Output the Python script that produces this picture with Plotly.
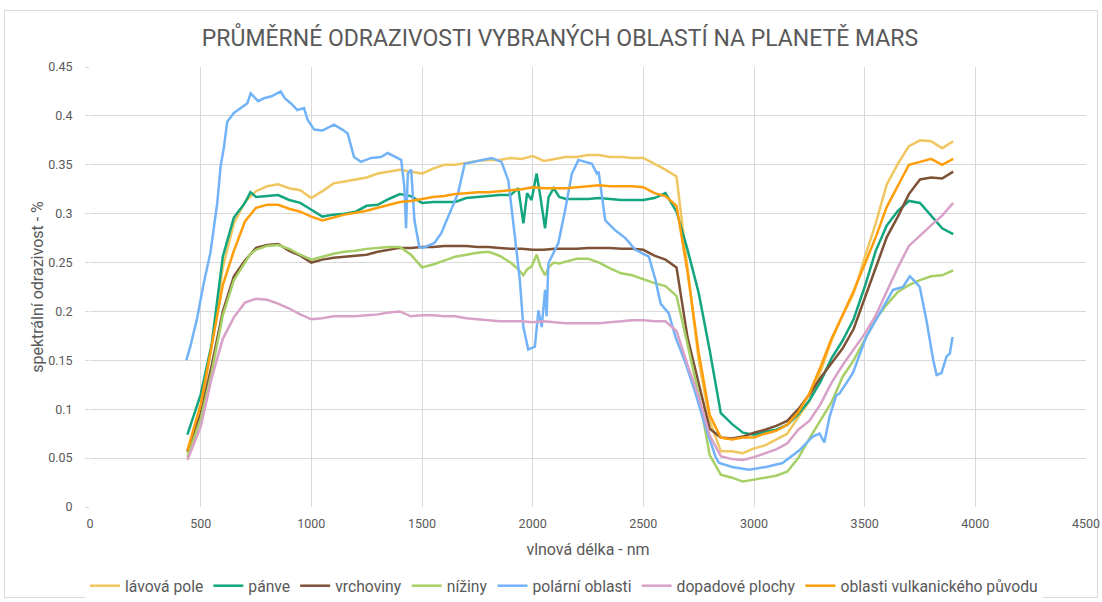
import plotly.graph_objects as go

# ---------------- data ----------------
wl = [440, 500, 550, 600, 650, 700, 750, 800, 850, 900, 950, 1000, 1050, 1100, 1150, 1200,
      1250, 1300, 1350, 1400, 1450, 1500, 1550, 1600, 1650, 1700, 1750, 1800, 1850, 1900,
      1950, 2000, 2050, 2100, 2150, 2200, 2250, 2300, 2350, 2400, 2450, 2500, 2550, 2600,
      2650, 2700, 2750, 2800, 2850, 2900, 2950, 3000, 3050, 3100, 3150, 3200, 3250, 3300,
      3350, 3400, 3450, 3500, 3550, 3600, 3650, 3700, 3750, 3800, 3850, 3900]

lavova_pole = [0.055, 0.100, 0.165, 0.245, 0.290, 0.312, 0.323, 0.328, 0.330, 0.326, 0.324, 0.316,
               0.323, 0.331, 0.333, 0.335, 0.337, 0.341, 0.343, 0.345, 0.343, 0.341, 0.346, 0.350,
               0.350, 0.352, 0.354, 0.355, 0.355, 0.357, 0.356, 0.359, 0.354, 0.356, 0.358, 0.358,
               0.360, 0.360, 0.358, 0.358, 0.357, 0.357, 0.351, 0.345, 0.338, 0.245, 0.150, 0.088,
               0.057, 0.057, 0.055, 0.060, 0.063, 0.069, 0.075, 0.092, 0.108, 0.138, 0.170, 0.196,
               0.218, 0.255, 0.290, 0.330, 0.351, 0.369, 0.375, 0.374, 0.367, 0.374]

vrchoviny = [0.057, 0.095, 0.145, 0.200, 0.236, 0.252, 0.265, 0.268, 0.269, 0.262, 0.257, 0.250,
             0.253, 0.255, 0.256, 0.257, 0.258, 0.261, 0.263, 0.265, 0.265, 0.266, 0.266, 0.267,
             0.267, 0.267, 0.266, 0.266, 0.265, 0.264, 0.264, 0.263, 0.263, 0.264, 0.264, 0.264,
             0.265, 0.265, 0.265, 0.264, 0.264, 0.263, 0.257, 0.253, 0.245, 0.173, 0.125, 0.080,
             0.071, 0.070, 0.072, 0.076, 0.079, 0.083, 0.088, 0.100, 0.115, 0.132, 0.147, 0.162,
             0.182, 0.213, 0.245, 0.276, 0.297, 0.320, 0.335, 0.337, 0.336, 0.343]

dopadove_plochy = [0.048, 0.082, 0.132, 0.172, 0.194, 0.209, 0.213, 0.212, 0.208, 0.203, 0.197, 0.192,
                   0.193, 0.195, 0.195, 0.195, 0.196, 0.197, 0.199, 0.200, 0.195, 0.196, 0.196, 0.195,
                   0.195, 0.193, 0.192, 0.191, 0.190, 0.190, 0.190, 0.189, 0.190, 0.189, 0.188, 0.188,
                   0.188, 0.188, 0.189, 0.190, 0.191, 0.191, 0.190, 0.190, 0.180, 0.145, 0.113, 0.073,
                   0.052, 0.049, 0.048, 0.051, 0.055, 0.059, 0.065, 0.079, 0.088, 0.105, 0.127, 0.145,
                   0.161, 0.177, 0.196, 0.220, 0.245, 0.267, 0.278, 0.288, 0.298, 0.311]

vulkanicke = [0.058, 0.105, 0.165, 0.227, 0.262, 0.292, 0.306, 0.309, 0.309, 0.305, 0.302, 0.297,
              0.293, 0.296, 0.299, 0.301, 0.303, 0.306, 0.309, 0.312, 0.313, 0.315, 0.317, 0.318,
              0.320, 0.321, 0.322, 0.322, 0.323, 0.324, 0.325, 0.327, 0.326, 0.326, 0.326, 0.327,
              0.328, 0.329, 0.328, 0.328, 0.328, 0.327, 0.321, 0.318, 0.308, 0.240, 0.158, 0.094,
              0.071, 0.069, 0.071, 0.071, 0.075, 0.078, 0.084, 0.097, 0.116, 0.143, 0.172, 0.196,
              0.221, 0.248, 0.276, 0.307, 0.328, 0.350, 0.353, 0.356, 0.350, 0.356]

wl_detail = [440, 500, 550, 600, 650, 700, 725, 750, 800, 850, 900, 950, 1000, 1050, 1100, 1150,
             1200, 1250, 1300, 1350, 1400, 1450, 1500, 1550, 1600, 1650, 1700, 1750, 1800, 1850,
             1900, 1935, 1958, 1975, 1995, 2018, 2035, 2056, 2072, 2095, 2120, 2150, 2200, 2250,
             2300, 2350, 2400, 2450, 2500, 2550, 2600, 2650, 2700, 2750, 2800, 2850, 2900, 2950,
             3000, 3050, 3100, 3150, 3200, 3250, 3300, 3350, 3400, 3450, 3500, 3550, 3600, 3650,
             3700, 3750, 3800, 3850, 3900]

panve = [0.074, 0.115, 0.167, 0.256, 0.296, 0.311, 0.322, 0.317, 0.318, 0.319, 0.314, 0.311,
         0.304, 0.297, 0.299, 0.300, 0.302, 0.308, 0.309, 0.315, 0.320, 0.318, 0.311, 0.312,
         0.312, 0.312, 0.316, 0.317, 0.318, 0.319, 0.319, 0.326, 0.290, 0.321, 0.314, 0.341,
         0.317, 0.285, 0.317, 0.326, 0.317, 0.315, 0.315, 0.315, 0.316, 0.315, 0.314, 0.314,
         0.314, 0.316, 0.321, 0.302, 0.263, 0.219, 0.160, 0.096, 0.085, 0.076, 0.074, 0.077,
         0.079, 0.084, 0.095, 0.109, 0.128, 0.152, 0.170, 0.192, 0.225, 0.262, 0.288, 0.303,
         0.313, 0.311, 0.298, 0.285, 0.279]

niziny = [0.051, 0.090, 0.138, 0.196, 0.232, 0.250, 0.259, 0.263, 0.267, 0.268, 0.264, 0.258,
          0.253, 0.256, 0.259, 0.261, 0.262, 0.264, 0.265, 0.266, 0.266, 0.258, 0.245, 0.248,
          0.252, 0.256, 0.258, 0.260, 0.261, 0.257, 0.250, 0.243, 0.237, 0.243, 0.246, 0.258,
          0.246, 0.237, 0.245, 0.250, 0.249, 0.251, 0.254, 0.254, 0.250, 0.244, 0.239, 0.237,
          0.233, 0.229, 0.226, 0.216, 0.166, 0.115, 0.053, 0.033, 0.030, 0.026, 0.028, 0.030,
          0.032, 0.036, 0.050, 0.070, 0.088, 0.107, 0.133, 0.150, 0.171, 0.192, 0.207, 0.220,
          0.227, 0.232, 0.236, 0.237, 0.242]

wl_polar = [435, 453, 484, 514, 544, 575, 590, 605, 620, 650, 711, 726, 760, 786, 820, 862, 880,
            907, 937, 967, 983, 1013, 1050, 1088, 1102, 1140, 1164, 1193, 1224, 1270, 1315, 1345,
            1406, 1420, 1428, 1436, 1451, 1466, 1488, 1504, 1556, 1587, 1618, 1647, 1663, 1693,
            1769, 1814, 1859, 1890, 1920, 1942, 1958, 1980, 2010, 2026, 2041, 2056, 2063, 2071,
            2116, 2147, 2177, 2207, 2268, 2290, 2298, 2328, 2373, 2419, 2464, 2525, 2555, 2578,
            2615, 2645, 2691, 2736, 2781, 2827, 2842, 2902, 2978, 3054, 3129, 3159, 3205, 3265,
            3296, 3318, 3341, 3371, 3386, 3447, 3507, 3568, 3628, 3673, 3704, 3734, 3749, 3779,
            3810, 3825, 3847, 3870, 3885, 3897]

polarni = [0.150, 0.164, 0.193, 0.229, 0.260, 0.311, 0.348, 0.368, 0.394, 0.403, 0.413, 0.423,
           0.415, 0.418, 0.420, 0.425, 0.418, 0.413, 0.406, 0.408, 0.396, 0.386, 0.385, 0.389,
           0.391, 0.386, 0.382, 0.358, 0.353, 0.357, 0.358, 0.362, 0.355, 0.328, 0.285, 0.341,
           0.345, 0.293, 0.266, 0.265, 0.270, 0.280, 0.297, 0.311, 0.321, 0.351, 0.355, 0.357,
           0.353, 0.334, 0.276, 0.232, 0.184, 0.161, 0.164, 0.201, 0.184, 0.222, 0.195, 0.249,
           0.270, 0.304, 0.341, 0.355, 0.351, 0.341, 0.343, 0.293, 0.283, 0.275, 0.263, 0.256,
           0.232, 0.208, 0.198, 0.174, 0.147, 0.116, 0.082, 0.051, 0.045, 0.041, 0.038, 0.041,
           0.045, 0.050, 0.058, 0.072, 0.075, 0.066, 0.092, 0.114, 0.116, 0.137, 0.174, 0.198,
           0.222, 0.225, 0.236, 0.229, 0.225, 0.191, 0.150, 0.135, 0.137, 0.154, 0.157, 0.174]

series = [
    ("lávová pole", wl, lavova_pole, "#F0C660"),
    ("pánve", wl_detail, panve, "#12A57F"),
    ("vrchoviny", wl, vrchoviny, "#7D5236"),
    ("nížiny", wl_detail, niziny, "#A6CF66"),
    ("polární oblasti", wl_polar, polarni, "#72B3F8"),
    ("dopadové plochy", wl, dopadove_plochy, "#D8A2C8"),
    ("oblasti vulkanického původu", wl, vulkanicke, "#FF9E0A"),
]

x_ticks = [0, 500, 1000, 1500, 2000, 2500, 3000, 3500, 4000, 4500]
y_ticks = [0, 0.05, 0.1, 0.15, 0.2, 0.25, 0.3, 0.35, 0.4, 0.45]

# ---------------- figure ----------------
FONT = "Roboto"
GREY = "#595959"
GRID = "#D9D9D9"
W, H = 1102, 602
L, R, T, B = 90, 16, 67, 95
PW, PH = W - L - R, H - T - B

fig = go.Figure()
for name, xs, ys, col in series:
    fig.add_trace(go.Scatter(x=xs, y=ys, mode="lines", name=name,
                             line=dict(color=col, width=2.5)))

fig.update_layout(
    width=W, height=H,
    margin=dict(l=L, r=R, t=T, b=B, autoexpand=False),
    paper_bgcolor="white", plot_bgcolor="white",
    font=dict(family=FONT, color=GREY, size=12),
    title=dict(text="PRŮMĚRNÉ ODRAZIVOSTI VYBRANÝCH OBLASTÍ NA PLANETĚ MARS",
               x=560 / W, xanchor="center", y=1 - 38 / H, yanchor="middle",
               font=dict(family=FONT, size=23, color=GREY)),
    legend=dict(orientation="h", x=(564 - L) / PW, xanchor="center",
                y=(H - B - 586) / PH, yanchor="middle",
                font=dict(family=FONT, size=15.7, color=GREY), itemwidth=30,
                traceorder="normal"),
    showlegend=True,
)
fig.update_xaxes(range=[0, 4500], tickvals=x_ticks, showgrid=True, gridcolor=GRID,
                 gridwidth=1, zeroline=False, showline=False, ticks="", automargin=False,
                 ticklabelstandoff=7,
                 title=dict(text="vlnová délka - nm", font=dict(size=16, color=GREY), standoff=14),
                 tickfont=dict(size=12.5, color=GREY))
fig.update_yaxes(range=[0, 0.45], tickvals=y_ticks, showgrid=True, gridcolor=GRID,
                 gridwidth=1, zeroline=False, showline=False, automargin=False,
                 ticks="outside", ticklen=4, tickcolor=GRID, ticklabelstandoff=10,
                 title=dict(text="spektrální odrazivost - %", font=dict(size=16, color=GREY), standoff=0),
                 tickfont=dict(size=12.5, color=GREY))

# outer chart frame
fig.add_shape(type="rect", xref="paper", yref="paper",
              x0=(4.5 - L) / PW, x1=(1097.5 - L) / PW,
              y0=(H - B - 597.5) / PH, y1=(H - B - 10.5) / PH,
              line=dict(color=GRID, width=1), fillcolor="rgba(0,0,0,0)", layer="below")

# remove the default page margin so the figure fills the 1102x602 window exactly
fig.write_html("out.html",
               config={"displayModeBar": False},
               post_script="document.body.style.margin='0';document.body.style.overflow='hidden';")
